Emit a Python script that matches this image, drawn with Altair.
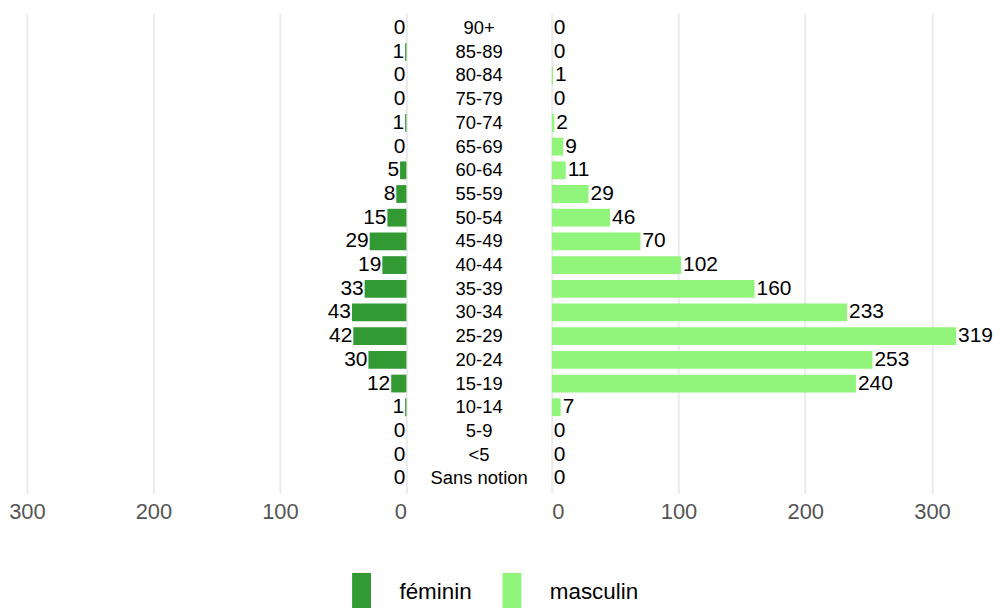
import altair as alt
import pandas as pd

ages = ["90+", "85-89", "80-84", "75-79", "70-74", "65-69", "60-64", "55-59",
        "50-54", "45-49", "40-44", "35-39", "30-34", "25-29", "20-24", "15-19",
        "10-14", "5-9", "<5", "Sans notion"]
feminin = [0, 1, 0, 0, 1, 0, 5, 8, 15, 29, 19, 33, 43, 42, 30, 12, 1, 0, 0, 0]
masculin = [0, 0, 1, 0, 2, 9, 11, 29, 46, 70, 102, 160, 233, 319, 253, 240, 7, 0, 0, 0]
sexes = ["féminin", "masculin"]
colors = ["#339933", "#90f57a"]
ticks = [0, 100, 200, 300]

df_f = pd.DataFrame({"age": ages, "n": feminin, "sexe": sexes[0]})
df_m = pd.DataFrame({"age": ages, "n": masculin, "sexe": sexes[1]})
df_c = pd.DataFrame({"age": ages})

H = 482
FONT = "Liberation Sans"
yband = alt.Y("age:N", sort=ages, axis=None,
              scale=alt.Scale(paddingInner=0.25, paddingOuter=0.255))
color = alt.Color("sexe:N",
                  scale=alt.Scale(domain=sexes, range=colors),
                  legend=alt.Legend(title=None, orient="none", direction="horizontal",
                                    legendX=336, legendY=562,
                                    symbolType="M-0.5,-1H0.5V1H-0.5Z",
                                    symbolSize=1444, symbolStrokeWidth=0,
                                    labelFontSize=22.5, labelColor="#000000",
                                    labelFont=FONT,
                                    labelOffset=19, columnPadding=21,
                                    symbolOpacity=1))

xaxis = alt.Axis(values=ticks, title=None, domain=False, ticks=False,
                 labelFontSize=22, labelColor="#555555", labelFont=FONT,
                 labelPadding=8, grid=True, gridColor="#ebebeb", gridWidth=2)

left_base = alt.Chart(df_f).encode(
    y=yband,
    x=alt.X("n:Q", scale=alt.Scale(domain=[0, 315], reverse=True, nice=False), axis=xaxis),
)
left = alt.layer(
    left_base.mark_bar().encode(color=color),
    left_base.mark_text(align="right", dx=-1, fontSize=21, font=FONT,
                        color="#000000", baseline="middle").encode(text="n:Q"),
).properties(width=400, height=H)

mid = alt.Chart(df_c).mark_text(fontSize=18.5, font=FONT, color="#000000",
                                baseline="middle").encode(
    y=yband, x=alt.value(73), text="age:N"
).properties(width=146, height=H)

right_base = alt.Chart(df_m).encode(
    y=yband,
    x=alt.X("n:Q", scale=alt.Scale(domain=[0, 345], nice=False), axis=xaxis),
)
right = alt.layer(
    right_base.mark_bar().encode(color=color),
    right_base.mark_text(align="left", dx=2, fontSize=21, font=FONT,
                         color="#000000", baseline="middle").encode(text="n:Q"),
).properties(width=439, height=H)

chart = alt.hconcat(left, mid, right, spacing=0).resolve_scale(y="shared").properties(
    padding={"left": 0, "top": 4, "right": 0, "bottom": 0}
).configure_view(stroke=None).configure_concat(spacing=0)

chart.save("out.html", embed_options={"renderer": "svg", "actions": False})
